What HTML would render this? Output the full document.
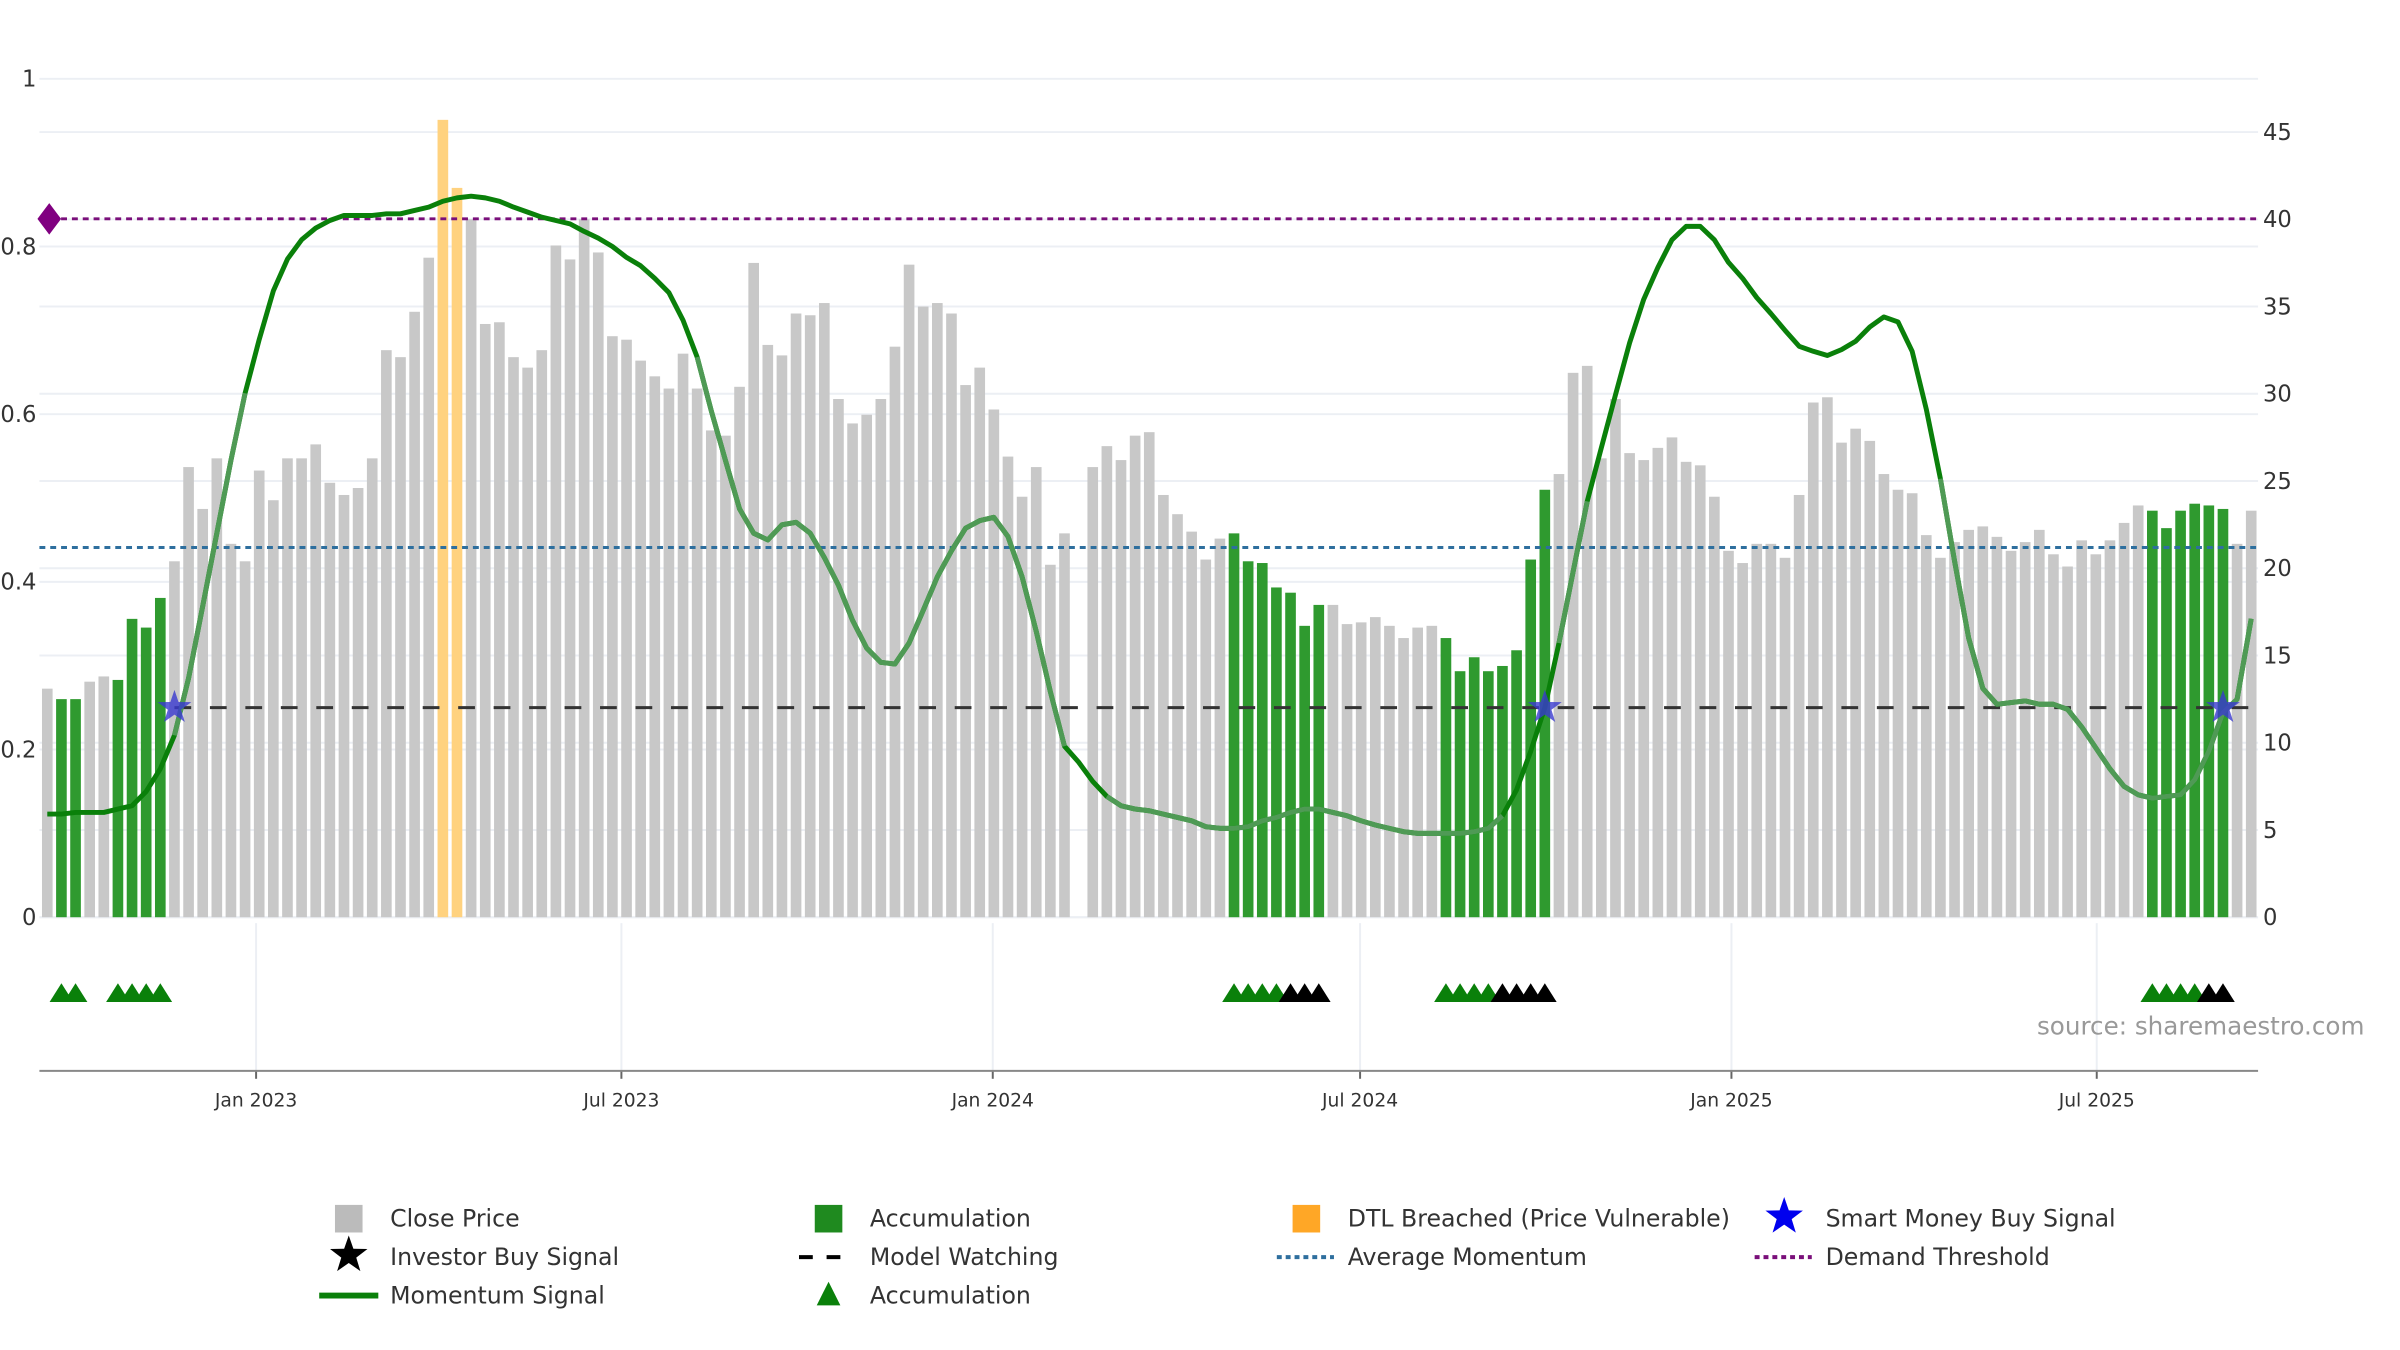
<!DOCTYPE html>
<html><head><meta charset="utf-8"><style>
html,body{margin:0;padding:0;background:#fff;}
svg{display:block;font-family:"DejaVu Sans","Liberation Sans",sans-serif;}
</style></head><body>
<svg id="chart" width="2400" height="1350" viewBox="0 0 2400 1350" xmlns="http://www.w3.org/2000/svg">
<g transform="scale(0.9852)">
<g id="grid"></g>
<g id="bars"></g>
<g id="refs"></g>
<g id="line"></g>
<g id="marks"></g>
<g id="axes"></g>
<g id="lower"></g>
<text x="2400" y="1050" text-anchor="end" font-size="25" fill="#999">source: sharemaestro.com</text>
<g id="legend"></g>
</g>
</svg>
<script>
const prices = [13.1,12.5,12.5,13.5,13.8,13.6,17.1,16.6,18.3,20.4,
25.8,23.4,26.3,21.4,20.4,25.6,23.9,26.3,26.3,27.1,
24.9,24.2,24.6,26.3,32.5,32.1,34.7,37.8,45.7,41.8,
40.0,34.0,34.1,32.1,31.5,32.5,38.5,37.7,40.0,38.1,
33.3,33.1,31.9,31.0,30.3,32.3,30.3,27.9,27.6,30.4,
37.5,32.8,32.2,34.6,34.5,35.2,29.7,28.3,28.8,29.7,
32.7,37.4,35.0,35.2,34.6,30.5,31.5,29.1,26.4,24.1,
25.8,20.2,22.0,0,25.8,27.0,26.2,27.6,27.8,24.2,
23.1,22.1,20.5,21.7,22.0,20.4,20.3,18.9,18.6,16.7,
17.9,17.9,16.8,16.9,17.2,16.7,16.0,16.6,16.7,16.0,
14.1,14.9,14.1,14.4,15.3,20.5,24.5,25.4,31.2,31.6,
26.3,29.7,26.6,26.2,26.9,27.5,26.1,25.9,24.1,21.0,
20.3,21.4,21.4,20.6,24.2,29.5,29.8,27.2,28.0,27.3,
25.4,24.5,24.3,21.9,20.6,21.5,22.2,22.4,21.8,21.0,
21.5,22.2,20.8,20.1,21.6,20.8,21.6,22.6,23.6,23.3,
22.3,23.3,23.7,23.6,23.4,21.4,23.3];
const momentum = [.123,.123,.125,.125,.125,.129,.133,.150,.177,.217,
.285,.371,.458,.545,.625,.689,.747,.785,.808,.822,
.831,.837,.837,.837,.839,.839,.843,.847,.854,.858,
.860,.858,.854,.847,.841,.835,.831,.827,.818,.810,
.800,.787,.777,.762,.745,.712,.668,.604,.545,.487,
.458,.450,.468,.471,.458,.429,.396,.354,.321,.304,
.302,.327,.366,.406,.437,.464,.473,.477,.454,.406,
.341,.269,.204,.185,.162,.144,.133,.129,.127,.123,
.119,.115,.108,.106,.106,.108,.115,.119,.125,.129,
.129,.125,.121,.115,.110,.106,.102,.100,.100,.100,
.100,.102,.106,.121,.152,.198,.250,.327,.412,.496,
.560,.623,.685,.737,.775,.808,.824,.824,.808,.781,
.762,.739,.720,.700,.681,.675,.670,.677,.687,.704,
.716,.710,.675,.606,.523,.425,.333,.273,.254,.256,
.258,.254,.254,.248,.227,.202,.177,.156,.146,.142,
.144,.146,.164,.198,.244,.260,.356];
const accumIdx = [1,2,5,6,7,8,84,85,86,87,88,89,90,99,100,101,102,103,104,105,106,149,150,151,152,153,154];
const dtlIdx = [28,29];
const greenTriIdx = [1,2,5,6,7,8,84,85,86,87,99,100,101,102,149,150,151,152];
const blackTriIdx = [88,89,90,103,104,105,106,153,154];
const starIdx = [9,106,154];
const lightRanges = [[9,14],[46,72],[75,103],[107,109],[134,156]];
const demandThreshold = 0.833;
const avgMomentum = 0.441;
const watchLevel = 0.25;
const watchStart = 9;
const leftTicks = [0,0.2,0.4,0.6,0.8,1];
const leftTickLabels = ["0","0.2","0.4","0.6","0.8","1"];
const rightTicks = [0,5,10,15,20,25,30,35,40,45];
const xTickDays = [0,181,365,547,731,912];
const xTickLabels = ["Jan 2023","Jul 2023","Jan 2024","Jul 2024","Jan 2025","Jul 2025"];
const firstIdxOfJan2023 = 14.78;

const NS="http://www.w3.org/2000/svg";
const X0=48, STEP=14.34, BASE=931, LPX=851, RPX=17.71, PL=40, PR=2292;
const xi = i => X0 + i*STEP;
const yl = v => BASE - v*LPX;
const yr = v => BASE - v*RPX;
function mk(tag, attrs, parent){const e=document.createElementNS(NS,tag);for(const k in attrs)e.setAttribute(k,attrs[k]);parent.appendChild(e);return e;}
const G=id=>document.getElementById(id);

rightTicks.forEach(t=>{const l=mk('line',{x1:PL,x2:PR,y1:yr(t),y2:yr(t),stroke:'#eceff4','stroke-width':2},G('grid'));

});
leftTicks.forEach(t=>{const l=mk('line',{x1:PL,x2:PR,y1:yl(t),y2:yl(t),stroke:'#eceff4','stroke-width':2},G('grid'));

});

prices.forEach((p,i)=>{
  if(!p) return;
  let fill='#c8c8c8';
  if(accumIdx.includes(i)) fill='#2f9a2f';
  if(dtlIdx.includes(i)) fill='#ffd27f';
  const r=mk('rect',{x:xi(i)-5.4,y:yr(p),width:10.8,height:BASE-yr(p),fill:fill},G('bars'));
  
  
});

let e;
e=mk('line',{x1:PL,x2:PR,y1:yl(avgMomentum),y2:yl(avgMomentum),stroke:'#2e6f9e','stroke-width':3,'stroke-dasharray':'6 5'},G('refs'));


e=mk('line',{x1:PL,x2:PR,y1:yl(demandThreshold),y2:yl(demandThreshold),stroke:'#7a0f7a','stroke-width':3,'stroke-dasharray':'6 5'},G('refs'));


e=mk('line',{x1:xi(watchStart),x2:xi(prices.length-1),y1:yl(watchLevel),y2:yl(watchLevel),stroke:'#333','stroke-width':3,'stroke-dasharray':'17 19'},G('refs'));


e=mk('polygon',{points:`${PL+10},${yl(demandThreshold)-16} ${PL+22},${yl(demandThreshold)} ${PL+10},${yl(demandThreshold)+16} ${PL-2},${yl(demandThreshold)}`,fill:'#800080'},G('refs'));



const pts=momentum.map((v,i)=>xi(i)+','+yl(v)).join(' ');
e=mk('polyline',{points:pts,fill:'none',stroke:'#0a800a','stroke-width':5,'stroke-linejoin':'round'},G('line'));


lightRanges.forEach(([a,b])=>{
  const p=momentum.slice(a,b+1).map((v,k)=>xi(a+k)+','+yl(v)).join(' ');
  const s=mk('polyline',{points:p,fill:'none',stroke:'#4f9a55','stroke-width':5,'stroke-linejoin':'round'},G('line'));
  
  
});

function starPts(cx,cy,R,r){let s=[];for(let k=0;k<10;k++){const a=-Math.PI/2+k*Math.PI/5;const rr=k%2?r:R;s.push((cx+rr*Math.cos(a)).toFixed(1)+','+(cy+rr*Math.sin(a)).toFixed(1));}return s.join(' ');}
starIdx.forEach(i=>{
  const s=mk('polygon',{points:starPts(xi(i),yl(watchLevel),18,7),fill:'#3a3ad0','fill-opacity':0.8},G('marks'));
  
  
});

leftTicks.forEach((t,k)=>{const tx=mk('text',{x:37,y:yl(t)+8,'text-anchor':'end','font-size':23,fill:'#333'},G('axes'));tx.textContent=leftTickLabels[k];

});
rightTicks.forEach(t=>{const tx=mk('text',{x:2297,y:yr(t)+8,'font-size':23,fill:'#333'},G('axes'));tx.textContent=String(t);

});

xTickDays.forEach((d,k)=>{
  const x=xi(firstIdxOfJan2023+d/7);
  const g=mk('line',{x1:x,x2:x,y1:937,y2:1087,stroke:'#eceff4','stroke-width':2},G('lower'));
  
  
  const t=mk('line',{x1:x,x2:x,y1:1087,y2:1095,stroke:'#666','stroke-width':2},G('lower'));
  
  
  const l=mk('text',{x:x,y:1123,'text-anchor':'middle','font-size':19,fill:'#333'},G('lower'));
  l.textContent=xTickLabels[k];
  
  
});
e=mk('line',{x1:PL,x2:PR,y1:1087,y2:1087,stroke:'#888','stroke-width':2},G('lower'));


function tri(i,color){const x=xi(i);const t=mk('polygon',{points:`${x-12},1017 ${x},998 ${x+12},1017`,fill:color},G('lower'));return t;}
greenTriIdx.forEach(i=>{const t=tri(i,'#0a800a');

});
blackTriIdx.forEach(i=>{const t=tri(i,'#000');

});

const L=G('legend');
function ltext(x,y,s,name){const t=mk('text',{x:x,y:y+8,'font-size':24,fill:'#333'},L);t.textContent=s;return t;}
const rows=[1237,1276,1315], cols=[354,841,1326,1811];
let m;
m=mk('rect',{x:cols[0]-14,y:rows[0]-14,width:28,height:28,fill:'#bbb'},L);
ltext(cols[0]+42,rows[0],'Close Price','legend-close-price');
m=mk('rect',{x:cols[1]-14,y:rows[0]-14,width:28,height:28,fill:'#1f8a1f'},L);
ltext(cols[1]+42,rows[0],'Accumulation','legend-accumulation');
m=mk('rect',{x:cols[2]-14,y:rows[0]-14,width:28,height:28,fill:'#ffa726'},L);
ltext(cols[2]+42,rows[0],'DTL Breached (Price Vulnerable)','legend-dtl-breached');
m=mk('polygon',{points:starPts(cols[3],rows[0]-2,20,8),fill:'#0000ee'},L);
ltext(cols[3]+42,rows[0],'Smart Money Buy Signal','legend-smart-money');
m=mk('polygon',{points:starPts(cols[0],rows[1]-2,20,8),fill:'#000'},L);
ltext(cols[0]+42,rows[1],'Investor Buy Signal','legend-investor-buy');
m=mk('line',{x1:cols[1]-30,x2:cols[1]+26,y1:rows[1],y2:rows[1],stroke:'#000','stroke-width':4,'stroke-dasharray':'14 14'},L);
ltext(cols[1]+42,rows[1],'Model Watching','legend-model-watching');
m=mk('line',{x1:cols[2]-30,x2:cols[2]+28,y1:rows[1],y2:rows[1],stroke:'#2e6f9e','stroke-width':4,'stroke-dasharray':'5 4'},L);
ltext(cols[2]+42,rows[1],'Average Momentum','legend-average-momentum');
m=mk('line',{x1:cols[3]-30,x2:cols[3]+28,y1:rows[1],y2:rows[1],stroke:'#7a0f7a','stroke-width':4,'stroke-dasharray':'5 4'},L);
ltext(cols[3]+42,rows[1],'Demand Threshold','legend-demand-threshold');
m=mk('line',{x1:cols[0]-30,x2:cols[0]+30,y1:rows[2],y2:rows[2],stroke:'#0a800a','stroke-width':6},L);
ltext(cols[0]+42,rows[2],'Momentum Signal','legend-momentum-signal');
m=mk('polygon',{points:`${cols[1]-12},${rows[2]+10} ${cols[1]},${rows[2]-14} ${cols[1]+12},${rows[2]+10}`,fill:'#0a800a'},L);
ltext(cols[1]+42,rows[2],'Accumulation','legend-accumulation-signal');
</script>
</body></html>
